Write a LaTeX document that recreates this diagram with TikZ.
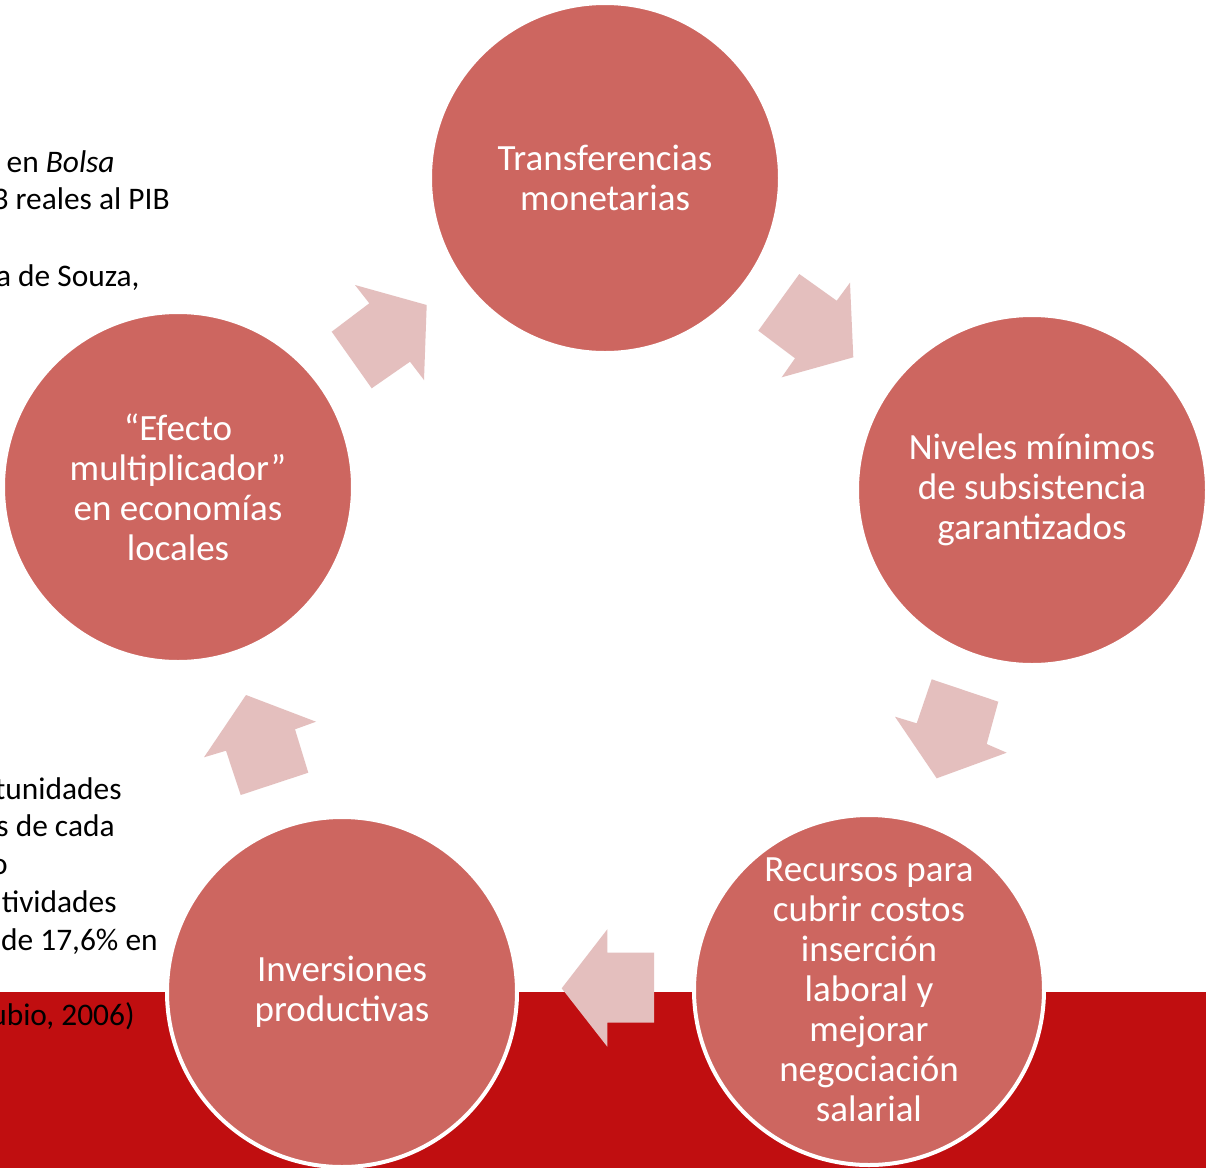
\documentclass[tikz,border=0pt]{standalone}
\usepackage{fontspec}
\setmainfont{Carlito}
\definecolor{band}{RGB}{192,14,16}
\definecolor{circ}{RGB}{205,102,96}
\definecolor{arr}{RGB}{228,191,190}
\begin{document}
\begin{tikzpicture}[x=0.5pt,y=-0.5pt,
  bub/.style={circle, fill=circ, draw=white, line width=2pt, minimum size=175pt, inner sep=0pt, align=center, text=white, font=\fontsize{18.5}{20}\selectfont},
  side/.style={anchor=base east, inner sep=0pt, font=\fontsize{15.7}{19}\selectfont, text=black},
  cyc/.style={fill=arr, draw=none}]
\useasboundingbox (0,0) rectangle (1206,1168);
\clip (0,0) rectangle (1206,1168);
\fill[white] (0,0) rectangle (1206,1168);
\fill[band] (0,992) rectangle (1206,1168);
% partially hidden side texts
\node[side] (t1) at (115,172.7) {en \textit{Bolsa}};
\node[side] (t2) at (170,209) {3 reales al PIB};
\node[side] (t3) at (140,286.7) {a de Souza,};
\node[side] (t4) at (122,799.3) {tunidades};
\node[side] (t5) at (115,836.5) {s de cada};
\node[side] (t6) at (8,874) {o};
\node[side] (t7) at (117,912.5) {tividades};
\node[side] (t8) at (158,950) {de 17,6\% en};
\node[side] (t9) at (135,1025) {ubio, 2006)};
% cycle arrows
\fill[cyc] (355,285) -- (426.7,305) -- (424,380) -- (410,361.7) -- (371.7,388.3) -- (331.7,331.7) -- (369.3,303.3) -- cycle;
\fill[cyc] (799.3,274) -- (836.7,300.7) -- (850,282.7) -- (853.3,357.3) -- (781.7,377.3) -- (795,358.3) -- (758.3,330.7) -- cycle;
\fill[cyc] (931.7,679.3) -- (998.3,701.7) -- (986.7,744) -- (1006.7,752.7) -- (936.7,778.3) -- (895,716.7) -- (916.7,723.3) -- cycle;
\fill[cyc] (607.3,929.3) -- (607.3,952.7) -- (654,952.7) -- (654,1022.7) -- (607.3,1022.7) -- (607.3,1046.7) -- (561.7,988.3) -- cycle;
\fill[cyc] (246,695) -- (316,721.7) -- (295,729.3) -- (308.3,772.7) -- (240.7,795) -- (226,750.7) -- (204,757.3) -- cycle;
% circles
\node[bub, yshift=-1pt] (c1) at (605,176) {Transferencias\\monetarias};
\node[bub, yshift=-1.5pt] (c2) at (1032,487) {Niveles mínimos\\de subsistencia\\garantizados};
\node[bub] (c3) at (869,990) {Recursos para\\cubrir costos\\inserción\\laboral y\\mejorar\\negociación\\salarial};
\node[bub, yshift=-1pt] (c4) at (342,990) {Inversiones\\productivas};
\node[bub] (c5) at (178,487) {“Efecto\\multiplicador”\\en economías\\locales};
\end{tikzpicture}
\end{document}
